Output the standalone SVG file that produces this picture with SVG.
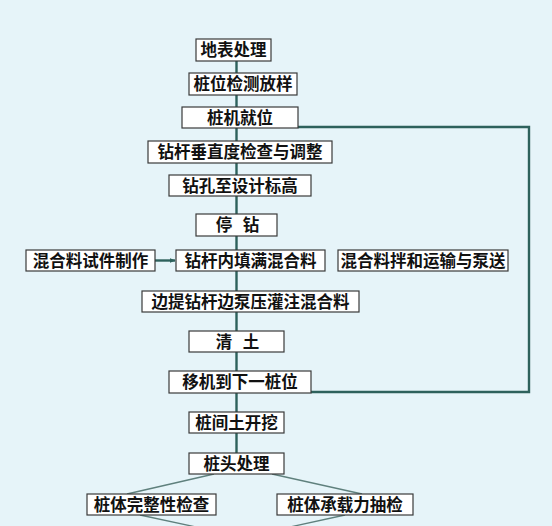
<svg xmlns="http://www.w3.org/2000/svg" width="552" height="526" viewBox="0 0 552 526">
<style>
.box{fill:#ffffff;stroke:#3a3a3a;stroke-width:1.2}
.lbl{font-family:"Noto Sans CJK SC","Noto Sans CJK TC",sans-serif;font-size:16.5px;font-weight:700;fill:#111;text-anchor:middle}
.main{fill:none;stroke:#2d615c;stroke-width:2.4}
.thin{fill:none;stroke:#5f807d;stroke-width:1.3}
</style>
<defs>
<marker id="ah" viewBox="0 0 10 10" refX="9" refY="5" markerWidth="6" markerHeight="6" orient="auto" markerUnits="userSpaceOnUse">
<path d="M0,1 L10,5 L0,9 z" fill="#2d615c"/>
</marker>
</defs>
<rect width="552" height="526" fill="#e6f4f9"/>
<g id="connectors">
<line class="main" x1="236.5" y1="61" x2="236.5" y2="453"/>
<polyline class="main" points="298,127 529,127 529,392 311,392"/>
<line class="main" x1="155" y1="260.5" x2="175" y2="260.5" stroke-width="1.8" marker-end="url(#ah)"/>
<line class="thin" x1="214" y1="474" x2="127" y2="494"/>
<line class="thin" x1="272" y1="474" x2="362" y2="494"/>
<line class="thin" x1="140" y1="515" x2="196" y2="527"/>
<line class="thin" x1="345" y1="515" x2="290" y2="527"/>
</g>
<g id="n1"><rect class="box" x="196" y="39" width="75" height="22"/><text class="lbl" x="233.5" y="56">地表处理</text></g>
<g id="n2"><rect class="box" x="189" y="73" width="108" height="22"/><text class="lbl" x="243" y="90">桩位检测放样</text></g>
<g id="n3"><rect class="box" x="182" y="107" width="116" height="21"/><text class="lbl" x="240" y="123.5">桩机就位</text></g>
<g id="n4"><rect class="box" x="148" y="141" width="184" height="22"/><text class="lbl" x="240" y="158">钻杆垂直度检查与调整</text></g>
<g id="n5"><rect class="box" x="169" y="175" width="142" height="21"/><text class="lbl" x="240" y="191.5">钻孔至设计标高</text></g>
<g id="n6"><rect class="box" x="196" y="214" width="81" height="22"/><text class="lbl" x="237.5" y="231" style="word-spacing:7px" xml:space="preserve">停 钻</text></g>
<g id="n7"><rect class="box" x="26" y="250" width="129" height="21"/><text class="lbl" x="90.5" y="266.5">混合料试件制作</text></g>
<g id="n8"><rect class="box" x="176" y="250" width="149" height="21"/><text class="lbl" x="250.5" y="266.5">钻杆内填满混合料</text></g>
<g id="n9"><rect class="box" x="338" y="250" width="170" height="21"/><text class="lbl" x="423" y="266.5">混合料拌和运输与泵送</text></g>
<g id="n10"><rect class="box" x="142" y="291" width="217" height="21"/><text class="lbl" x="250.5" y="307.5">边提钻杆边泵压灌注混合料</text></g>
<g id="n11"><rect class="box" x="189" y="331" width="95" height="21"/><text class="lbl" x="237.5" y="347.5" style="word-spacing:7px" xml:space="preserve">清 土</text></g>
<g id="n12"><rect class="box" x="169" y="371" width="142" height="22"/><text class="lbl" x="240" y="388">移机到下一桩位</text></g>
<g id="n13"><rect class="box" x="189" y="412" width="95" height="21"/><text class="lbl" x="236.5" y="428.5">桩间土开挖</text></g>
<g id="n14"><rect class="box" x="189" y="453" width="95" height="21"/><text class="lbl" x="236.5" y="469.5">桩头处理</text></g>
<g id="n15"><rect class="box" x="87" y="494" width="129" height="21"/><text class="lbl" x="151.5" y="510.5">桩体完整性检查</text></g>
<g id="n16"><rect class="box" x="277" y="494" width="136" height="21"/><text class="lbl" x="345" y="510.5">桩体承载力抽检</text></g>
</svg>
